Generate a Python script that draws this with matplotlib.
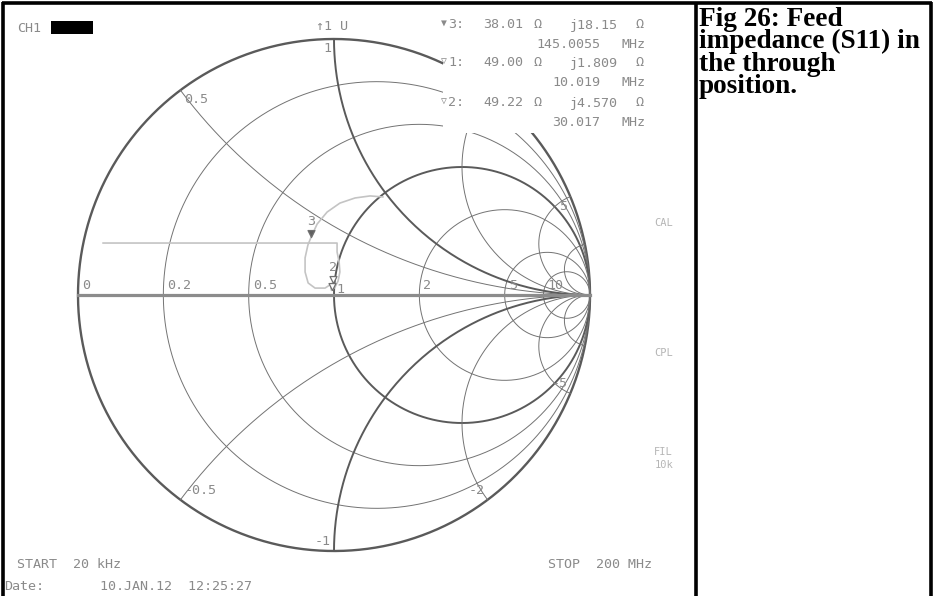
import numpy as np
import matplotlib
matplotlib.use("Agg")
import matplotlib.pyplot as plt
from matplotlib.patches import Rectangle
from matplotlib.path import Path

# ---------------- data ----------------
W, H = 934, 596
CX, CY, RAD = 334, 295, 256          # Smith chart centre / radius in pixels

r_circles = [0.2, 0.5, 1, 2, 5, 10]          # constant-resistance circles
x_arcs = [0.5, 1, 2, 5, 10]                  # constant-reactance arcs (+/-)
thick_r = [1]
thick_x = [1]
r_label_vals = [0, 0.2, 0.5, 2, 5, 10]
r_label_txt = ["0", "0.2", "0.5", "2", "5", "10"]
x_label_vals = [0.5, 1, 5, -0.5, -1, -2, -5]
x_label_txt = ["0.5", "1", "5", "-0.5", "-1", "-2", "-5"]

trace_re = [-0.902, 0.012, 0.012, 0.020, 0.023, 0.016, 0.004, -0.010,
            -0.012, -0.006, -0.035, -0.074, -0.101, -0.113, -0.113, -0.102,
            -0.090, -0.066, -0.027, 0.023, 0.082, 0.141, 0.191]
trace_im = [0.203, 0.203, 0.168, 0.129, 0.090, 0.055, 0.031, 0.018,
            0.027, 0.046, 0.027, 0.027, 0.047, 0.090, 0.145, 0.195,
            0.225, 0.277, 0.324, 0.359, 0.379, 0.387, 0.383]

markers = ["1", "2", "3"]
marker_z = [(49.00, 1.809), (49.22, 4.570), (38.01, 18.15)]   # ohms
marker_freq = ["10.019 MHz", "30.017 MHz", "145.0055 MHz"]
Z0 = 50.0

caption = ["Fig 26: Feed", "impedance (S11) in", "the through", "position."]

# ---------------- figure ----------------
fig = plt.figure(figsize=(W / 100, H / 100), dpi=100)
ax = fig.add_axes([0, 0, 1, 1])
ax.set_xlim((0 - CX) / RAD, (W - CX) / RAD)
ax.set_ylim((CY - H) / RAD, CY / RAD)
ax.axis("off")

thin_c, thin_lw = "#737373", 0.7
thick_c, thick_lw = "#5a5a5a", 1.4

# outer circle
t = np.linspace(0, 2 * np.pi, 800)
ax.plot(np.cos(t), np.sin(t), color=thick_c, lw=1.7, zorder=2)

# resistance circles
for r in r_circles:
    c, rr = r / (1 + r), 1 / (1 + r)
    thick = r in thick_r
    ax.plot(c + rr * np.cos(t), rr * np.sin(t),
            color=thick_c if thick else thin_c,
            lw=thick_lw if thick else thin_lw, zorder=2)

# reactance arcs
rs = np.concatenate([np.linspace(0, 1, 200), np.logspace(0, 5, 400)])
for xv in x_arcs:
    for s in (1, -1):
        z = rs + 1j * s * xv
        g = (z - 1) / (z + 1)
        thick = xv in thick_x
        ax.plot(g.real, g.imag, color=thick_c if thick else thin_c,
                lw=thick_lw if thick else thin_lw, zorder=2)

# real axis
ax.plot([-1, 1], [0, 0], color="#8c8c8c", lw=2.3, zorder=3)

# trace
ax.plot(trace_re, trace_im, color="#c4c4c4", lw=1.2, zorder=4)

# markers (tip at point)
tri = Path([(-0.5, 1), (0.5, 1), (0, 0), (-0.5, 1)],
           [Path.MOVETO, Path.LINETO, Path.LINETO, Path.CLOSEPOLY])
gm = []
for (rv, xv) in marker_z:
    z = complex(rv, xv) / Z0
    gm.append((z - 1) / (z + 1))
for i, g in enumerate(gm):
    filled = markers[i] == "3"
    ax.plot([g.real], [g.imag], marker=tri, ms=10, ls="none",
            mfc="#606060" if filled else "white", mec="#707070", mew=0.9,
            zorder=6)

# ---------------- overlay (pixel coordinates) ----------------
ov = fig.add_axes([0, 0, 1, 1], facecolor="none")
ov.set_xlim(0, W)
ov.set_ylim(H, 0)
ov.axis("off")

def px(gx, gy):
    return CX + RAD * gx, CY - RAD * gy

mono = ["DejaVu Sans Mono", "DejaVu Sans"]
tcol = "#8a8a8a"
fs = 9.6

# blank area behind the marker read-out
ov.add_patch(Rectangle((443, 6), 250, 127, facecolor="white",
                       edgecolor="none", zorder=1))

# marker labels
g1, g2, g3 = [px(g.real, g.imag) for g in gm]
ov.text(g1[0] + 5, g1[1] - 1, "1", fontsize=fs, family=mono, color=tcol,
        ha="left", va="center", zorder=5)
ov.text(g2[0], g2[1] - 9, "2", fontsize=fs, family=mono, color=tcol,
        ha="center", va="bottom", zorder=5)
ov.text(g3[0], g3[1] - 9, "3", fontsize=fs, family=mono, color=tcol,
        ha="center", va="bottom", zorder=5)

# resistance labels
for rv, txt in zip(r_label_vals, r_label_txt):
    xl, yl = px((rv - 1) / (rv + 1), 0)
    ov.text(xl + 4, yl - 3, txt, fontsize=fs, family=mono, color=tcol,
            ha="left", va="bottom", zorder=5)

# reactance labels
for xv, txt in zip(x_label_vals, x_label_txt):
    gx, gy = (xv * xv - 1) / (xv * xv + 1), 2 * xv / (xv * xv + 1)
    xl, yl = px(gx, gy)
    if xv > 0:
        va, dy = "top", 3
    else:
        va, dy = "bottom", -3
    if abs(xv) < 1:
        ha, dx = "left", 4
    else:
        ha, dx = "right", -3
    ov.text(xl + dx, yl + dy, txt, fontsize=fs, family=mono, color=tcol,
            ha=ha, va=va, zorder=5)

# header texts
ov.text(17, 28, "CH1", fontsize=fs, family=mono, color=tcol, va="center")
ov.add_patch(Rectangle((51, 21), 42, 13, facecolor="black", zorder=5))
ov.text(316, 27, "\u21911 U", fontsize=fs, family=mono, color=tcol,
        va="center")

rows_y = [25, 63, 103]
freq_y = [44, 83, 122]
order = [2, 0, 1]
symbols = ["\u25bc", "\u25bd", "\u25bd"]
for k, idx in enumerate(order):
    rv, xv = marker_z[idx]
    y = rows_y[k]
    ov.text(441, y - 2, symbols[k], fontsize=7, family=mono, color=tcol,
            va="center", zorder=5)
    ov.text(448, y, markers[idx] + ":", fontsize=fs, family=mono,
            color=tcol, va="center", zorder=5)
    ov.text(523, y, f"{rv:.2f}", fontsize=fs, family=mono, color=tcol,
            va="center", ha="right", zorder=5)
    ov.text(534, y, "\u03a9", fontsize=fs, family=mono, color=tcol,
            va="center", zorder=5)
    xs = f"j{xv:.2f}" if xv >= 10 else f"j{xv:.3f}"
    ov.text(618, y, xs, fontsize=fs, family=mono, color=tcol,
            va="center", ha="right", zorder=5)
    ov.text(636, y, "\u03a9", fontsize=fs, family=mono, color=tcol,
            va="center", zorder=5)
    f_num, f_unit = marker_freq[idx].split()
    ov.text(600, freq_y[k], f_num, fontsize=fs, family=mono, color=tcol,
            va="center", ha="right", zorder=5)
    ov.text(645, freq_y[k], f_unit, fontsize=fs, family=mono, color=tcol,
            va="center", ha="right", zorder=5)

side = [("CAL", 223), ("CPL", 353), ("FIL", 452), ("10k", 465)]
for s, y in side:
    ov.text(673, y, s, fontsize=7.5, family=mono, color="#b5b5b5",
            va="center", ha="right", zorder=5)

ov.text(17, 565, "START  20 kHz", fontsize=fs, family=mono, color=tcol,
        va="center")
ov.text(652, 565, "STOP  200 MHz", fontsize=fs, family=mono, color=tcol,
        va="center", ha="right")
ov.text(4, 587, "Date:", fontsize=fs, family=mono, color=tcol, va="center")
ov.text(100, 587, "10.JAN.12  12:25:27", fontsize=fs, family=mono,
        color=tcol, va="center")

# caption panel (one multi-line text)
ov.text(699, 7, "\n".join(caption), fontsize=19.6, family="Liberation Serif",
        weight="bold", color="black", va="top", ha="left",
        linespacing=0.86, zorder=5)

# frame
fk = dict(color="black", lw=2.6, solid_capstyle="butt", zorder=7)
ov.plot([3, 3], [2, H], **fk)
ov.plot([2, W - 2], [3, 3], **fk)
ov.plot([696, 696], [2, H], **fk)
ov.plot([931, 931], [2, H], **fk)

fig.savefig("out.png", dpi=100)
